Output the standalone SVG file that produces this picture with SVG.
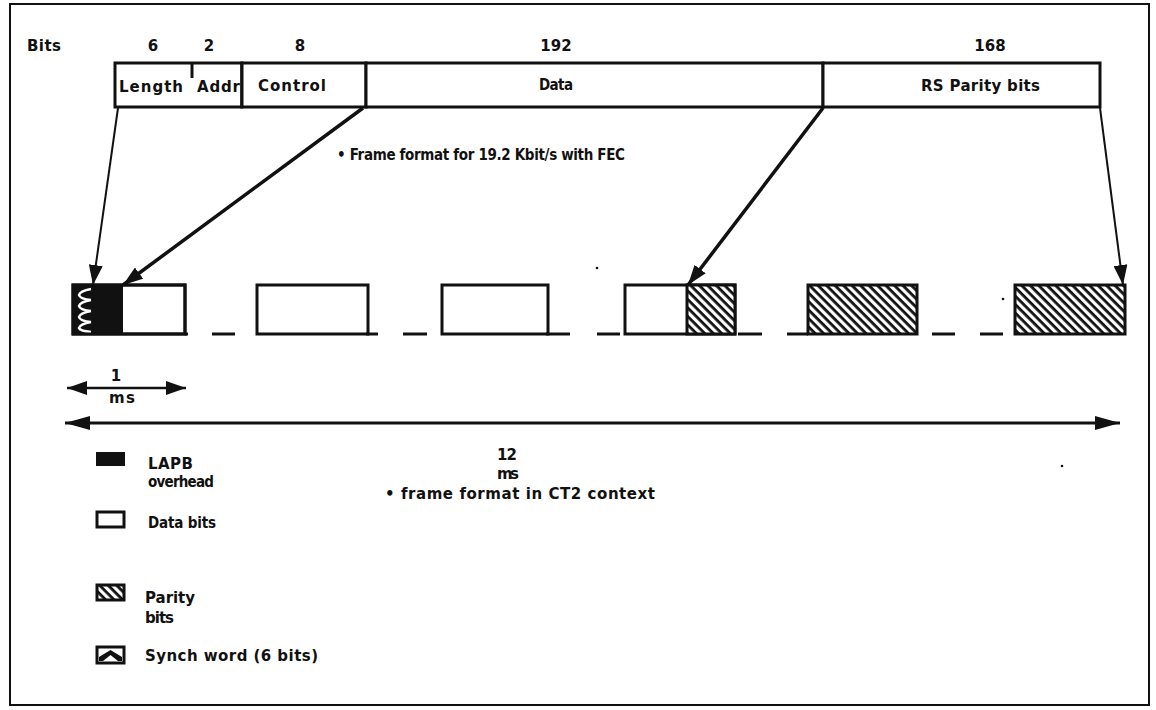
<svg xmlns="http://www.w3.org/2000/svg" width="1156" height="710" viewBox="0 0 1156 710">
<style>
.t{font-family:"DejaVu Sans","Liberation Sans",sans-serif;font-weight:bold;font-size:15px;fill:#111}
.n{font-family:"DejaVu Sans Condensed","DejaVu Sans","Liberation Sans",sans-serif;font-stretch:condensed;font-weight:bold;font-size:15px;fill:#111}
.bx{fill:#fff;stroke:#111;stroke-width:3}
.ln{stroke:#111;stroke-width:3;fill:none;stroke-linecap:butt}
.thin{stroke:#111;stroke-width:2;fill:none}
.thick{stroke:#111;stroke-width:3.5;fill:none}
</style>
<defs>
<pattern id="hatch" patternUnits="userSpaceOnUse" width="8" height="6" patternTransform="rotate(45)">
<rect width="8" height="6" fill="#fff"/>
<rect y="0" width="8" height="2.8" fill="#111"/>
</pattern>
<marker id="ah" markerUnits="userSpaceOnUse" markerWidth="22" markerHeight="14" refX="20" refY="7" orient="auto-start-reverse">
<path d="M0,0 L20,7 L0,14 z" fill="#111"/>
</marker>
<marker id="ahL" markerUnits="userSpaceOnUse" markerWidth="26" markerHeight="14" refX="25" refY="7" orient="auto-start-reverse">
<path d="M0,0 L25,7 L0,14 z" fill="#111"/>
</marker>
</defs>

<rect x="10" y="4" width="1139" height="701" fill="#fff" stroke="#111" stroke-width="2"/>

<g id="header">
<text class="t" x="27" y="51" textLength="34">Bits</text>
<text class="t" x="153" y="51" text-anchor="middle">6</text>
<text class="t" x="209" y="51" text-anchor="middle">2</text>
<text class="t" x="300" y="51" text-anchor="middle">8</text>
<text class="t" x="556" y="51" text-anchor="middle">192</text>
<text class="t" x="990" y="51" text-anchor="middle">168</text>
</g>

<g id="field-length-addr">
<rect class="bx" x="115" y="63" width="127" height="44"/>
<line class="ln" x1="192" y1="63" x2="192" y2="78"/>
<text class="t" x="119" y="92" textLength="64">Length</text>
<text class="t" x="197" y="92" textLength="43">Addr</text>
<line class="ln" x1="242" y1="63" x2="242" y2="107"/>
</g>
<g id="field-control">
<rect class="bx" x="242" y="63" width="124" height="44"/>
<text class="t" x="258" y="91" textLength="68">Control</text>
</g>
<g id="field-data">
<rect class="bx" x="366" y="63" width="457" height="44"/>
<text class="n" x="539" y="90" textLength="34">Data</text>
</g>
<g id="field-rs">
<rect class="bx" x="823" y="63" width="277" height="44"/>
<text class="t" x="921" y="91" textLength="119">RS Parity bits</text>
</g>

<g id="caption-top">
<text class="n" x="337" y="160" textLength="288">• Frame format for 19.2 Kbit/s with FEC</text>
</g>

<g id="slot-1">
<rect class="bx" x="73" y="285" width="112" height="49"/>
<rect x="73" y="285" width="50" height="49" fill="#111"/>
<path d="M91,289 Q80,291 79,295 Q80,299 91,300 M91,300 Q80,302 79,306 Q80,310 91,311 M91,311 Q80,313 79,317 Q80,321 91,322 M91,322 Q80,324 79,328 Q80,331 91,332" stroke="#fff" stroke-width="2.5" fill="none"/>
<rect x="73" y="285" width="112" height="49" fill="none" stroke="#111" stroke-width="3"/>
<line class="ln" x1="185" y1="334" x2="188" y2="334"/>
</g>
<g id="slot-2">
<rect class="bx" x="257" y="285" width="111" height="49"/>
<line class="ln" x1="366" y1="334" x2="378" y2="334"/>
</g>
<g id="slot-3">
<rect class="bx" x="442" y="285" width="106" height="49"/>
<line class="ln" x1="546" y1="334" x2="570" y2="334"/>
</g>
<g id="slot-4">
<rect class="bx" x="625" y="285" width="110" height="49"/>
<rect x="687" y="285" width="48" height="49" fill="url(#hatch)" stroke="#111" stroke-width="3"/>
</g>
<g id="slot-5">
<rect x="808" y="285" width="109" height="49" fill="url(#hatch)" stroke="#111" stroke-width="3"/>
<line class="ln" x1="787" y1="334" x2="808" y2="334"/>
</g>
<g id="slot-6">
<rect x="1015" y="285" width="110" height="49" fill="url(#hatch)" stroke="#111" stroke-width="3"/>
</g>
<g id="gaps">
<line class="ln" x1="212" y1="334" x2="235" y2="334"/>
<line class="ln" x1="403" y1="334" x2="427" y2="334"/>
<line class="ln" x1="597" y1="334" x2="620" y2="334"/>
<line class="ln" x1="738" y1="334" x2="762" y2="334"/>
<line class="ln" x1="932" y1="334" x2="955" y2="334"/>
<line class="ln" x1="980" y1="334" x2="1003" y2="334"/>
<circle cx="597" cy="268" r="1.3" fill="#111"/>
<circle cx="1003" cy="299" r="1.3" fill="#111"/>
<circle cx="1062" cy="466" r="1.3" fill="#111"/>
</g>

<g id="connectors">
<line class="thin" x1="118" y1="108" x2="93" y2="285" marker-end="url(#ah)"/>
<line class="thick" x1="363" y1="108" x2="123" y2="285" marker-end="url(#ah)"/>
<line class="thick" x1="823" y1="108" x2="688" y2="285" marker-end="url(#ah)"/>
<line class="thin" x1="1100" y1="108" x2="1123" y2="285" marker-end="url(#ah)"/>
</g>

<g id="scale-1ms">
<line x1="67" y1="388" x2="186" y2="388" stroke="#111" stroke-width="2.5" marker-start="url(#ah)" marker-end="url(#ah)"/>
<text class="t" x="116" y="381" text-anchor="middle">1</text>
<text class="t" x="109" y="403" textLength="26">ms</text>
</g>
<g id="scale-12ms">
<line x1="65" y1="423" x2="1120" y2="423" stroke="#111" stroke-width="3" marker-start="url(#ahL)" marker-end="url(#ahL)"/>
<text class="t" x="497" y="460" textLength="20">12</text>
<text class="t" x="497" y="479" textLength="22">ms</text>
<text class="t" x="385" y="499" textLength="270">• frame format in CT2 context</text>
</g>

<g id="legend-lapb">
<rect x="96" y="452" width="29" height="14" fill="#111"/>
<text class="t" x="148" y="469" textLength="45">LAPB</text>
<text class="n" x="148" y="487" textLength="66">overhead</text>
</g>
<g id="legend-data">
<rect x="97" y="512" width="27" height="15" fill="#fff" stroke="#111" stroke-width="3"/>
<text class="n" x="148" y="528" textLength="68">Data bits</text>
</g>
<g id="legend-parity">
<rect x="97" y="585" width="27" height="15" fill="url(#hatch)" stroke="#111" stroke-width="3"/>
<text class="t" x="145" y="603" textLength="50">Parity</text>
<text class="t" x="145" y="623" textLength="29">bits</text>
</g>
<g id="legend-synch">
<rect x="97" y="647" width="27" height="16" fill="#fff" stroke="#111" stroke-width="3"/>
<path d="M99,661 L99,657 L110.5,650 L122,657 L122,661 L118,661 L110.5,655 L103,661 z" fill="#111"/>
<text class="t" x="145" y="661" textLength="173">Synch word (6 bits)</text>
</g>
</svg>
